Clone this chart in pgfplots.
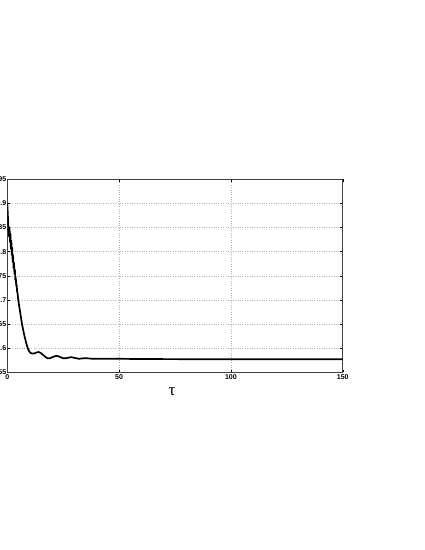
\documentclass[border=0pt]{standalone}
\usepackage{pgfplots}
\pgfplotsset{compat=1.18}
\usepackage{fontspec}
\setmainfont{Liberation Sans}
\newfontfamily\serifgreek{Liberation Serif}
\begin{document}
\begin{tikzpicture}
\useasboundingbox (0,0) rectangle (425pt,550pt);
\clip (0,0) rectangle (425pt,550pt);
\begin{axis}[
  at={(7.3pt,177.7pt)}, anchor=south west,
  width=335.4pt, height=193pt, scale only axis,
  xmin=0, xmax=150, ymin=0.55, ymax=0.95,
  xtick={0,50,100,150},
  ytick={0.55,0.6,0.65,0.7,0.75,0.8,0.85,0.9,0.95},
  yticklabels={0.55,0.6,0.65,0.7,0.75,0.8,0.85,0.9,0.95},
  grid=major,
  major grid style={gray!60, dotted, line width=0.5pt},
  tick align=inside, major tick length=2.5pt,
  tick style={black, line width=0.4pt},
  axis line style={black!75, line width=0.7pt},
  tick label style={font=\fontsize{7}{8}\selectfont\bfseries},
  /pgf/number format/assume math mode=true,
  xticklabel style={yshift=1pt},
  yticklabel style={xshift=2.5pt},
  xlabel={\fontsize{17}{18}\selectfont\serifgreek τ},
  xlabel style={yshift=-1pt, xshift=-3pt},
]
\addplot[black, line width=1.7pt, line join=round] coordinates {
(0,0.900) (0.2,0.880) (0.4,0.860) (0.6,0.842) (0.8,0.832)
(1.0,0.850) (1.2,0.820) (1.4,0.837) (1.6,0.806) (1.8,0.823)
(2.0,0.793) (2.2,0.808) (2.4,0.779) (2.6,0.792) (2.8,0.766)
(3.0,0.777) (3.2,0.754) (3.4,0.762) (3.6,0.741) (3.8,0.746)
(4.0,0.729) (4.2,0.731) (4.4,0.717) (4.6,0.714) (4.8,0.704)
(5.0,0.697) (5.5,0.682) (6.0,0.667) (6.5,0.652) (7.0,0.640)
(7.5,0.629) (8.0,0.619) (8.5,0.610) (9.0,0.602) (9.5,0.596)
(10,0.592) (10.5,0.590) (11,0.589) (12,0.589) (13,0.591)
(14,0.592) (15,0.590) (16,0.586) (17,0.582) (18,0.579)
(19,0.579) (20,0.581) (21,0.583) (22,0.584) (23,0.583)
(24,0.581) (25,0.579) (26,0.579) (27,0.580) (28,0.581)
(29,0.581) (30,0.580) (32,0.578) (34,0.579) (36,0.579)
(38,0.578) (40,0.578) (45,0.578) (50,0.578) (60,0.5775)
(80,0.5772) (100,0.5771) (150,0.5770)
};
\end{axis}
\end{tikzpicture}
\end{document}
